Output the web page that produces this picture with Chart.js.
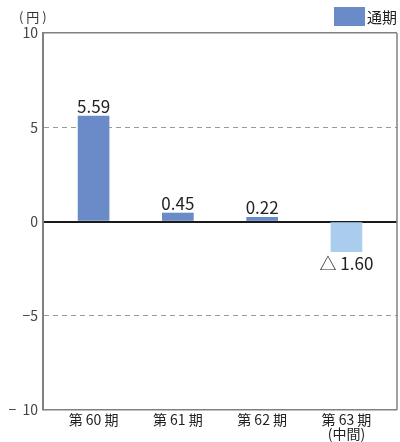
<!DOCTYPE html>
<html lang="ja">
<head>
<meta charset="utf-8">
<script src="https://cdn.jsdelivr.net/npm/chart.js@4/dist/chart.umd.min.js"></script>
<style>
  html, body { margin: 0; padding: 0; background: #fff; }
</style>
</head>
<body>
<canvas id="eps-chart" width="400" height="442"></canvas>
<script>
  // 1株当たり当期純利益 (円)
  const periods = [['第 60 期'], ['第 61 期'], ['第 62 期'], ['第 63 期', '(中間)']];
  const eps = [5.59, 0.45, 0.22, -1.60];
  const yTicks = [10, 5, 0, -5, -10];
  const yTickLabels = ['10', '5', '0', '−5', '−  10'];
  const seriesName = '通期';
  const unitLabel = '( 円 )';

  const FONT = '"Noto Sans CJK JP", "Noto Sans", sans-serif';
  const BAR_COLOR = '#6a8bc7';
  const BAR_COLOR_INTERIM = '#aacdee';
  const FRAME_COLOR = '#808080';

  // value labels, legend, unit label and right frame edge
  const decorations = {
    id: 'decorations',
    afterDatasetsDraw(chart) {
      const ctx = chart.ctx;
      const meta = chart.getDatasetMeta(0);
      ctx.save();
      ctx.font = '17px ' + FONT;
      ctx.fillStyle = '#222';
      ctx.textAlign = 'center';
      meta.data.forEach((bar, i) => {
        const v = eps[i];
        if (v >= 0) {
          ctx.textBaseline = 'bottom';
          ctx.fillText(v.toFixed(2), bar.x, bar.y - 1);
        } else {
          ctx.textBaseline = 'top';
          ctx.fillText('△ ' + Math.abs(v).toFixed(2), bar.x, bar.y + 3);
        }
      });
      ctx.restore();
    },
    afterDraw(chart) {
      const ctx = chart.ctx;
      const area = chart.chartArea;
      ctx.save();
      ctx.strokeStyle = FRAME_COLOR;
      ctx.lineWidth = 1.5;
      ctx.beginPath();
      ctx.moveTo(area.right, area.top);
      ctx.lineTo(area.right, area.bottom);
      ctx.stroke();

      // legend
      ctx.fillStyle = BAR_COLOR;
      ctx.fillRect(334, 7, 31, 19);
      ctx.fillStyle = '#222';
      ctx.font = '15px ' + FONT;
      ctx.textBaseline = 'middle';
      ctx.textAlign = 'left';
      ctx.fillText(seriesName, 367, 17);

      // unit
      ctx.font = '13px ' + FONT;
      ctx.fillStyle = '#333';
      ctx.fillText(unitLabel, 19, 17);
      ctx.restore();
    }
  };

  new Chart(document.getElementById('eps-chart'), {
    type: 'bar',
    data: {
      datasets: [{
        label: seriesName,
        data: eps.map((v, i) => ({ x: i, y: v })),
        backgroundColor: eps.map((v, i) => i === eps.length - 1 ? BAR_COLOR_INTERIM : BAR_COLOR),
        barThickness: 31,
        borderWidth: 0
      }]
    },
    options: {
      responsive: false,
      animation: false,
      layout: { padding: { top: 33, right: 3, left: 0, bottom: 0 } },
      plugins: {
        legend: { display: false },
        tooltip: { enabled: false }
      },
      scales: {
        x: {
          type: 'linear',
          min: -0.6,
          max: 3.6,
          offset: false,
          afterBuildTicks: (scale) => { scale.ticks = periods.map((_, i) => ({ value: i })); },
          afterFit: (scale) => { scale.height = 32; },
          grid: { display: false, drawTicks: false, offset: false },
          border: { display: false },
          ticks: {
            callback: (v) => periods[v],
            font: { family: FONT, size: 14, lineHeight: 1.05 },
            color: '#222',
            padding: 2,
            maxRotation: 0,
            autoSkip: false
          }
        },
        y: {
          min: -10,
          max: 10,
          afterBuildTicks: (scale) => { scale.ticks = yTicks.map((v) => ({ value: v })); },
          afterFit: (scale) => { scale.width = 43; },
          ticks: {
            callback: (v) => yTickLabels[yTicks.indexOf(v)],
            font: { family: FONT, size: 14 },
            color: '#444',
            padding: 5
          },
          grid: {
            drawTicks: false,
            color: (c) => {
              const v = c.tick ? c.tick.value : null;
              if (v === 0) return '#1a1a1a';
              if (Math.abs(v) === 5) return '#9a9a9a';
              return FRAME_COLOR;
            },
            lineWidth: (c) => {
              const v = c.tick ? c.tick.value : null;
              if (v === 0) return 2;
              if (Math.abs(v) === 5) return 1;
              return 1.5;
            }
          },
          border: {
            color: FRAME_COLOR,
            width: 2,
            dash: (c) => (c.tick && Math.abs(c.tick.value) === 5) ? [5, 4] : []
          }
        }
      }
    },
    plugins: [decorations]
  });
</script>
</body>
</html>
